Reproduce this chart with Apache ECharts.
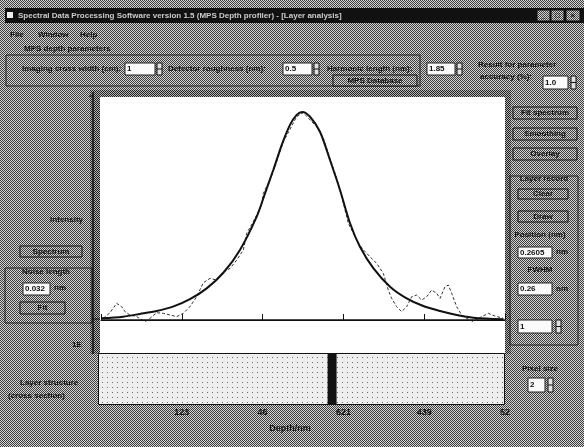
<!DOCTYPE html>
<html><head><meta charset="utf-8">
<script src="https://cdn.jsdelivr.net/npm/echarts@6/dist/echarts.min.js"></script>
<style>html,body{margin:0;padding:0;background:#8c8c8c;}#c{width:584px;height:447px;}</style>
</head><body><div id="c"></div>
<script>
// ---- data ----
const fitX = [0.0,0.272,0.483,0.689,0.891,1.101,1.308,1.514,1.720,1.927,2.030,2.132,2.236,2.339,2.422,2.491,2.587,2.710,2.834,2.958,3.082,3.205,3.370,3.577,3.783,3.989,4.196,4.402,4.608,4.979];
const fitY = [0.008,0.016,0.029,0.043,0.064,0.100,0.152,0.227,0.337,0.497,0.609,0.721,0.841,0.938,0.986,1.000,0.977,0.905,0.769,0.625,0.465,0.352,0.249,0.160,0.104,0.067,0.043,0.024,0.011,0.003];
const rawX = [0.029,0.111,0.194,0.256,0.297,0.359,0.441,0.545,0.606,0.689,0.771,0.854,0.936,1.019,1.101,1.184,1.266,1.349,1.432,1.514,1.597,1.679,1.762,1.803,1.885,1.927,1.988,2.009,2.092,2.174,2.257,2.339,2.422,2.504,2.587,2.669,2.752,2.834,2.917,2.979,3.061,3.123,3.185,3.247,3.329,3.412,3.494,3.556,3.597,3.659,3.721,3.783,3.845,3.907,3.969,4.031,4.092,4.154,4.196,4.257,4.299,4.340,4.402,4.464,4.526,4.608,4.711,4.794,4.876,4.979];
const rawY = [0.008,0.035,0.080,0.064,0.040,0.024,0.016,-0.008,0.008,0.035,0.032,0.024,0.016,0.032,0.064,0.112,0.179,0.200,0.192,0.232,0.248,0.288,0.337,0.417,0.473,0.505,0.553,0.609,0.673,0.761,0.857,0.917,0.978,0.997,0.962,0.929,0.873,0.777,0.681,0.593,0.465,0.417,0.369,0.337,0.304,0.272,0.224,0.144,0.104,0.064,0.040,0.064,0.112,0.120,0.096,0.112,0.144,0.128,0.104,0.160,0.168,0.128,0.064,0.024,0.008,-0.008,0.016,0.032,0.019,0.008];
const tickLabels = ['', '123', '46', '621', '439', '52'];
const markerPos = [2.86];
const xTitle = 'Depth/nm';

// ---- patterns ----
function pat(w, h, bg, dots) {
  const c = document.createElement('canvas'); c.width = w; c.height = h;
  const g = c.getContext('2d'); g.fillStyle = bg; g.fillRect(0, 0, w, h);
  dots.forEach(d => { g.fillStyle = d[2]; g.fillRect(d[0], d[1], 1, 1); });
  return { image: c, repeat: 'repeat' };
}
const checker = pat(2, 2, '#d6d6d6', [[0,0,'#3c3c3c'],[1,1,'#3c3c3c']]);
const darkChecker = pat(2, 2, '#b4b4b4', [[0,0,'#202020'],[1,1,'#202020']]);
const dotPat = pat(5, 5, '#eeeeee', [[2,2,'#6e6e6e']]);

const FONT = 'bold 8px "Liberation Sans", "DejaVu Sans", sans-serif';
const G = [];
function rect(x, y, w, h, fill, stroke, z) {
  G.push({ type: 'rect', silent: true, z: z == null ? 1 : z, shape: { x, y, width: w, height: h },
    style: { fill: fill || 'none', stroke: stroke || null, lineWidth: 1 } });
}
function text(x, y, s, opt) {
  opt = opt || {};
  G.push({ type: 'text', silent: true, z: 3, x, y,
    style: { text: s, fill: opt.fill || '#111', font: opt.font || FONT,
      textAlign: opt.align || 'left', textVerticalAlign: 'middle', align: opt.align || 'left', verticalAlign: 'middle' } });
}
function button(x, y, w, h, s) { rect(x, y, w, h, checker, '#111', 2); text(x + w / 2, y + h / 2, s, { align: 'center' }); }
function input(x, y, w, h, s) { rect(x, y, w, h, '#fafafa', '#222', 2); text(x + 2, y + h / 2, s); }
function spinner(x, y, h) {
  rect(x, y, 5, h, '#e0e0e0', '#111', 2);
  G.push({ type: 'line', silent: true, z: 3, shape: { x1: x, y1: y + h / 2, x2: x + 5, y2: y + h / 2 }, style: { stroke: '#111', lineWidth: 1 } });
}
function line(x1, y1, x2, y2, w) {
  G.push({ type: 'line', silent: true, z: 3, shape: { x1, y1, x2, y2 }, style: { stroke: '#111', lineWidth: w || 1 } });
}

// background and frames
rect(0, 0, 584, 447, checker, null, -10);
rect(90, 90, 421, 264, darkChecker, null, -9);
rect(100, 97, 405, 256, '#ffffff', null, -8);
rect(98.5, 353.5, 406, 51, dotPat, '#111', -8);
line(93, 92, 93, 354, 1.5);
line(89, 96, 93, 96, 1);
line(93, 319, 100, 319, 1);

// title bar
rect(5, 8, 579, 15, '#111', null, 1);
rect(7, 12, 6, 6, '#eee', null, 2);
text(18, 15.5, 'Spectral Data Processing Software version 1.5 (MPS Depth profiler) - [Layer analysis]', { fill: '#ccc' });
button(537, 10, 13, 11, '_'); button(551, 10, 13, 11, '□'); button(566, 10, 14, 11, '×');

// menu
text(10, 35, 'File'); text(38, 35, 'Window'); text(80, 35, 'Help');

// top parameter group
text(24, 49, 'MPS depth parameters');
rect(6, 55, 414, 31, null, '#222', 1);
text(22, 69, 'Imaging cross width (cm):');
input(125, 63, 30, 12, '1'); spinner(157, 63, 12);
text(168, 69, 'Detector roughness (nm):');
input(283, 63, 29, 12, '0.5'); spinner(314, 63, 12);
text(327, 69, 'Harmonic length (nm):');
input(427, 63, 28, 12, '1.85'); spinner(457, 63, 12);
button(333, 75, 84, 11, 'MPS Database');
text(478, 65, 'Result for parameter');
text(480, 77, 'accuracy (%):');
input(543, 76, 25, 13, '1.0'); spinner(571, 76, 13);

// right panel
button(513, 107, 64, 12, 'Fit spectrum');
button(513, 128, 64, 12, 'Smoothing');
button(513, 148, 64, 12, 'Overlay');
rect(510, 176, 68, 169, null, '#222', 1);
text(544, 179, 'Layer record', { align: 'center' });
button(518, 189, 50, 10, 'Clear');
button(518, 211, 50, 11, 'Draw');
text(540, 235, 'Position (nm)', { align: 'center' });
input(518, 247, 34, 11, '0.2605'); text(556, 252, 'nm');
text(540, 270, 'FWHM', { align: 'center' });
input(518, 283, 34, 12, '0.26'); text(556, 289, 'nm');
input(518, 320, 34, 13, '1'); spinner(556, 320, 13);
text(540, 369, 'Pixel size', { align: 'center' });
input(528, 378, 17, 14, '2'); spinner(548, 378, 14);

// left panel
text(83, 220, 'Intensity', { align: 'right' });
button(20, 246, 62, 11, 'Spectrum');
rect(5, 268, 87, 55, null, '#222', 1);
text(22, 272, 'Noise length');
input(23, 283, 27, 12, '0.032'); text(54, 288, 'nm');
button(20, 302, 45, 12, 'Fit');
text(72, 345, '1E');
text(20, 383, 'Layer structure');
text(8, 396, '(cross section)');

const chart = echarts.init(document.getElementById('c'), null, { renderer: 'canvas' });
chart.setOption({
  animation: false,
  backgroundColor: 'transparent',
  graphic: G,
  grid: [
    { left: 101, top: 97, width: 404, height: 256 },
    { left: 101, top: 354, width: 404, height: 51 }
  ],
  xAxis: [
    { gridIndex: 0, type: 'value', min: 0, max: 5, interval: 1,
      axisLine: { show: true, lineStyle: { color: '#111', width: 1 } },
      axisTick: { show: true, inside: true, length: 6, lineStyle: { color: '#111' } },
      axisLabel: { show: false }, splitLine: { show: false } },
    { gridIndex: 1, type: 'value', min: 0, max: 5, interval: 1,
      axisLine: { show: false }, axisTick: { show: false }, splitLine: { show: false },
      axisLabel: { show: true, margin: 3, color: '#111', fontSize: 9, fontWeight: 'bold',
        fontFamily: '"Liberation Sans", sans-serif',
        formatter: v => tickLabels[Math.round(v)] || '' },
      name: xTitle, nameLocation: 'middle', nameGap: 19,
      nameTextStyle: { color: '#111', fontSize: 9, fontWeight: 'bold', fontFamily: '"Liberation Sans", sans-serif', padding: [0, 26, 0, 0] } }
  ],
  yAxis: [
    { gridIndex: 0, type: 'value', min: -0.1587, max: 1.0721, show: false },
    { gridIndex: 1, type: 'value', min: 0, max: 1, show: false }
  ],
  series: [
    { type: 'line', xAxisIndex: 0, yAxisIndex: 0, symbol: 'none',
      data: rawX.map((x, i) => [x, rawY[i]]),
      lineStyle: { color: '#333', width: 1, type: [3, 2] } },
    { type: 'line', xAxisIndex: 0, yAxisIndex: 0, symbol: 'none', smooth: 0.3,
      data: fitX.map((x, i) => [x, fitY[i]]),
      lineStyle: { color: '#111', width: 2 },
      markLine: { silent: true, symbol: 'none', label: { show: false },
        lineStyle: { color: '#111', width: 1.5, type: 'solid' }, data: [{ yAxis: 0 }] } },
    { type: 'bar', xAxisIndex: 1, yAxisIndex: 1, barWidth: 9,
      data: markerPos.map(x => [x, 1]), itemStyle: { color: '#111' } }
  ]
});
</script>
</body></html>
